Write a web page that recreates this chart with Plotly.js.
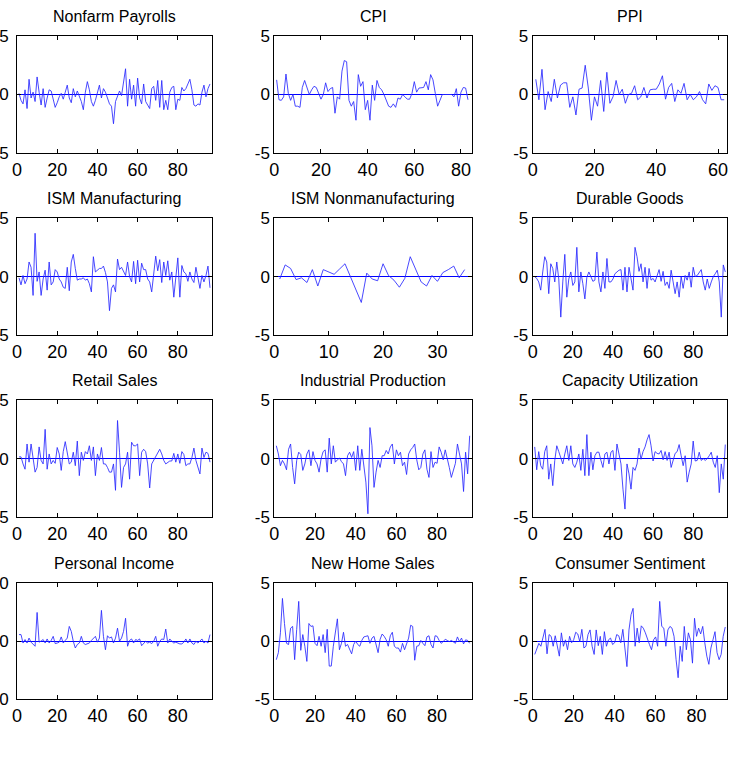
<!DOCTYPE html>
<html>
<head>
<meta charset="utf-8">
<script src="https://cdn.plot.ly/plotly-3.0.1.min.js"></script>
<style>
  html, body { margin: 0; padding: 0; background: #ffffff; }
  #chart { width: 737px; height: 762px; }
</style>
</head>
<body>
<div id="chart"></div>
<script>
// Standardised surprise series, one value per release
const nonfarmPayrolls = [
  0.1, -0.5, -0.8, 0.4, -1.2, 1.3, -0.3, 0.2, -0.6, 1.5,
  0.2, -0.9, 0.5, -1.1, -0.3, 0.4, 0.3, -0.5, -1.1, -0.7,
  -0.2, 0.1, -0.4, 0.2, 0.8, -0.3, -0.7, 0.5, -0.2, 0.3,
  -0.1, -0.6, -1.3, 0.2, 1.1, 0.4, -0.6, -1.0, -0.5, 0.2,
  0.8, -0.3, 0.5, 0.2, -0.4, -0.8, -1.0, -2.5, -0.6, -0.2,
  0.3, -0.1, 1.2, 2.2, -1.0, 1.3, -0.4, 0.8, -1.0, 1.4,
  -0.3, -0.8, 0.9, -0.6, -0.9, -1.2, 0.5, 0.7, -0.5, 1.2,
  -1.1, 1.2, -1.3, -0.5, -1.3, 0.2, 0.6, 0.7, -1.3, -0.4,
  -0.5, 0.6, 0.3, 0.5, 0.9, 1.3, 0.4, -0.9, -1.0, -0.8,
  -0.9, 0.2, 0.8, -0.2, 0.5, 0.9
];
const cpi = [
  1.25, -0.45, -0.5, -0.2, 1.75, 0.1, -0.5, 0.0, -1.0, -1.0,
  -1.1, 0.6, 1.2, 0.5, 0.0, 0.4, 0.7, 0.6, 0.0, -0.4,
  0.0, 1.0, 0.25, 0.5, 0.6, -1.6, -0.2, -0.4, 2.0, 2.9,
  2.8, -0.5, -1.0, -0.6, -2.2, 1.7, 0.7, 1.1, -1.3, -0.5,
  -2.2, 0.8, -0.5, 1.2, 0.6, 0.4, 0.0, -0.6, -1.0, -1.1,
  -0.8, -1.1, -0.3, -0.4, 0.0, -0.2, -0.4, -0.4, 0.1, 1.1,
  0.2, 0.55, 0.6, 0.6, 1.1, 0.4, 1.7, 1.25, 0.1, -1.0,
  -0.5, 0.0, 0.0, 0.0, 0.0, 0.0, -0.2, 0.5, -1.0, 0.2,
  0.6, 0.55, -0.45
];
const ppi = [
  1.3, -0.45, 2.15, -1.3, 0.25, -0.6, 1.3, -0.3, 0.8, 1.0,
  1.0, -1.1, -0.2, -1.75, 0.45, 0.55, 2.5, 0.55, -2.2, -0.2,
  -1.0, 1.2, -1.45, 1.9, -0.75, -0.2, 1.2, 0.0, 0.45, -0.75,
  0.0, 0.1, 0.75, -0.45, -0.2, 0.6, -0.3, 0.4, 0.45, 0.45,
  0.9, 1.6, -0.4, 0.6, 0.95, -0.6, 0.4, 0.1, 0.95, -0.45,
  0.0, -0.45, -0.2, 0.25, -0.45, -0.8, 0.9, 0.35, 0.75, 0.6,
  -0.45, -0.45
];
const ismManufacturing = [
  -0.1, -0.7, 0.1, -0.6, -0.2, 1.25, 0.8, -1.6, 3.7, -0.4,
  0.4, -1.6, -0.2, 0.55, -1.15, 1.25, -0.7, -0.45, 0.6, 0.4,
  -0.2, -0.45, -0.9, -1.0, 0.8, -1.2, 1.25, 1.9, 0.7, -0.3,
  -0.2, -0.2, -0.1, -0.3, -0.2, -0.6, -1.3, 1.7, 0.4, 0.55,
  0.7, 0.7, 0.9, 0.35, -0.45, -2.9, -1.0, -0.7, -1.3, 1.5,
  0.6, 0.8, 0.4, 0.1, 1.25, 0.0, -0.45, 1.3, -0.6, 1.4,
  -0.45, 1.15, 0.6, 0.6, -0.2, -0.45, -1.3, 0.25, 1.75, 0.5,
  1.45, -0.5, 1.25, 0.1, 1.35, -0.3, 0.4, -1.75, -0.2, 1.6,
  -1.75, 0.95, 0.4, 0.25, -0.4, 0.4, -0.2, -0.5, 0.8, -0.2,
  -1.0, 0.1, -0.45, 0.1, 0.9, -0.95
];
const ismNonmanufacturing = [
  -0.2, 1.0, 0.7, -0.25, -0.1, -0.5, 0.6, -0.8, 0.6, 0.4,
  0.2, 0.65, 1.1, 0.0, -1.05, -2.2, 0.3, -0.2, -0.35, 1.1,
  0.1, -0.3, -0.9, -0.15, 1.7, 0.55, -0.45, -0.8, 0.1, -0.4,
  0.35, 0.6, 0.9, -0.1, 0.6
];
const durableGoods = [
  0.0, -0.15, -0.45, -1.15, 0.4, 1.7, 1.25, -1.45, 1.1, 0.7,
  -0.45, 1.25, -0.2, -3.45, -0.45, 1.9, -1.75, -0.2, 0.4, -0.75,
  -0.45, 2.5, -1.3, 0.4, -0.6, -1.9, -0.05, 0.4, 0.0, -0.4,
  -0.3, 2.1, -0.45, -1.3, 0.4, -1.0, 1.55, -0.45, -0.45, -0.2,
  0.25, 0.4, 0.55, 0.6, -1.15, 0.8, -1.3, 0.8, -0.2, -1.15,
  2.5, 1.7, 0.45, 1.1, -0.45, 0.8, -1.0, 0.7, -0.3, -0.15,
  -0.45, 0.0, 0.6, -0.4, 0.45, -0.75, -0.45, -1.0, 0.55, -0.45,
  -1.45, -0.45, -1.75, 0.0, -1.0, 0.1, -0.3, 0.4, -0.9, 0.8,
  0.0, 0.1, 0.4, 0.6, -0.45, -1.15, -0.2, -1.0, -0.45, 0.0,
  0.25, 0.55, -0.45, -3.45, 1.0, 0.4
];
const retailSales = [
  0.15, 0.15, -0.45, -0.9, 1.25, -0.3, 1.25, -0.15, -1.15, -0.75,
  1.0, -0.15, -0.45, 2.5, -0.9, 0.4, -0.45, -0.15, -0.4, 0.95,
  0.4, -1.0, 0.6, 1.45, 0.4, -0.45, -0.3, 0.55, -0.6, 1.5,
  -1.45, 0.55, -0.15, 0.6, 0.4, 1.1, -0.15, 1.0, -1.45, 0.4,
  -0.15, 0.95, -0.45, -0.45, -0.75, -1.15, -1.15, -0.45, -2.7, 3.25,
  0.55, -2.45, -0.75, -0.45, 0.55, -1.75, 1.4, 1.1, 1.1, 1.25,
  -1.45, 0.55, 0.8, 0.6, -0.45, -2.5, -0.45, -0.15, 0.1, 0.45,
  0.8, 0.4, -0.15, -0.45, -0.3, -0.2, -0.2, 0.45, -0.3, 0.4,
  -0.4, 0.6, 0.35, -0.6, -0.45, -0.45, 0.1, 0.9, -0.15, -0.75,
  -1.3, 0.9, 0.1, 0.55, 0.45, -0.3
];
const industrialProduction = [
  1.1, 0.4, -0.6, -0.15, -0.45, -0.95, 0.8, 1.25, -0.75, -2.15,
  -0.15, 0.55, 0.35, -1.0, -0.45, 0.4, 0.75, -0.6, 0.6, -0.15,
  -0.45, -1.15, 0.0, 0.6, 0.75, -1.15, 1.75, -0.45, 1.1, -0.3,
  -0.1, 0.05, -0.25, -0.45, -1.45, 0.25, 0.55, 0.1, 0.6, -1.0,
  1.1, -1.0, 0.8, -0.45, -2.0, -4.7, 2.65, 1.1, -2.45, -1.15,
  -0.15, -0.75, 0.25, 0.25, 0.7, 0.4, 1.0, 1.25, -0.45, 0.75,
  0.25, 0.55, -0.6, -0.3, -1.35, 0.4, 0.75, 0.95, 1.25, -0.1,
  -0.95, -0.75, 0.4, 0.75, -0.9, -1.6, 0.6, -0.75, -0.3, -0.4,
  1.0, 0.55, -0.1, 0.75, -0.15, -0.75, -1.6, -0.95, -0.4, 1.25,
  0.25, -0.45, -2.8, 0.55, -1.3, 1.95
];
const capacityUtilization = [
  1.0, -0.95, 0.6, -0.6, -0.9, 0.6, 1.1, -1.75, -0.45, -2.3,
  -0.15, 1.1, 0.6, 0.1, -0.45, 0.4, 1.1, -0.15, 1.1, -0.45,
  -0.75, -0.3, 0.4, -1.0, 0.8, -1.45, 2.05, -1.45, 0.55, -0.95,
  0.25, 0.55, 0.55, -0.15, -0.75, 0.4, 0.55, -0.45, 0.55, 0.7,
  -1.0, 1.25, 0.4, -0.45, -2.6, -4.3, -0.45, -1.3, -2.6, -0.75,
  -1.0, -0.45, 0.9, -0.05, 0.6, 1.0, 1.6, 2.05, 1.1, -0.2,
  0.6, 0.45, 0.4, 0.7, -0.1, 0.6, -0.15, 0.55, -0.75, -0.15,
  0.45, 0.6, 1.2, 0.25, -0.6, 0.25, -2.0, -1.15, -0.45, 1.5,
  -0.2, -0.15, 0.55, -0.15, 0.0, -0.15, 0.0, 0.25, 0.55, -0.3,
  -0.75, 0.25, -2.9, -0.45, -1.75, 1.2
];
const personalIncome = [
  1.1, 1.1, -0.35, 0.25, -0.35, 0.5, -0.2, -0.5, -0.9, 4.9,
  -0.2, 0.0, 0.25, -0.35, 0.35, -0.35, 0.1, 0.8, -0.45, -0.35,
  -0.2, 0.7, -0.35, 0.1, 0.5, 2.5, 1.65, -0.05, -1.2, -0.6,
  -0.35, 0.8, -0.35, -0.6, -0.45, -0.35, 0.1, 0.5, 0.8, -0.2,
  0.5, 5.25, 0.8, -1.5, 0.9, 0.5, 0.7, -0.35, 0.5, 2.2,
  -0.05, 0.5, 1.65, 3.9, -0.9, 0.1, 0.35, -0.35, 0.25, 0.1,
  0.35, -0.8, -0.45, -0.05, -0.35, -0.2, -0.45, -0.05, 0.8, -0.9,
  -0.05, 0.35, 0.25, 2.05, -0.35, 0.35, -0.05, -0.35, -0.2, -0.35,
  -0.5, -0.5, -0.2, 0.35, -0.35, 0.35, -0.35, -0.6, -0.05, -0.35,
  0.1, 0.35, -0.35, -0.05, -0.35, 1.1
];
const newHomeSales = [
  -1.6, -1.0, 0.7, 3.65, 1.5, -0.2, -0.3, 1.1, 1.25, -1.6,
  1.0, 3.4, -0.8, 0.55, -0.45, -1.75, 1.5, 1.25, 1.3, -0.2,
  -0.4, 0.4, -0.45, 0.55, -1.0, 1.0, -2.15, -2.15, -0.45, 0.55,
  1.9, -0.75, -0.2, 0.75, -0.45, -0.3, -0.75, -1.1, -0.3, 0.0,
  -0.3, -0.45, 0.05, 0.35, 0.4, 0.45, -0.2, 0.25, 0.4, -0.45,
  -1.0, 0.15, 0.6, 0.4, 0.1, -0.45, 0.45, 0.75, -0.45, -0.6,
  -0.6, -0.95, -0.2, -0.75, -0.2, 0.25, 1.35, 1.25, -1.65, -0.45,
  -0.4, 0.05, -0.2, -0.4, 0.35, 0.45, -0.3, -0.6, 0.45, 0.4,
  0.05, -0.2, -0.05, 0.15, 0.05, -0.05, 0.05, -0.1, -0.2, 0.35,
  -0.05, 0.25, -0.25, 0.1, 0.05, -0.2
];
const consumerSentiment = [
  -1.15, -0.6, -0.2, -0.45, 0.4, 1.0, -1.1, 0.55, 0.4, -0.45,
  0.45, -0.6, -1.3, 0.7, -0.45, 0.1, -0.75, 0.4, -0.15, 0.1,
  0.75, 0.6, -0.05, 1.0, -0.6, -0.45, 0.55, 0.95, -0.45, -1.15,
  0.95, -0.4, 0.4, -1.15, 0.8, -0.45, 0.1, 0.25, -0.3, -0.15,
  0.55, 0.45, -0.15, 1.0, -0.45, -2.2, 0.95, 2.25, 2.8, -0.45,
  1.1, -0.15, 1.3, 1.1, 0.7, 0.1, -0.3, -0.75, 0.1, 0.35,
  -0.45, 3.4, 1.25, 1.1, -0.45, 0.95, 1.25, 1.1, 0.4, -1.6,
  -3.15, -0.45, -1.75, 1.25, -0.75, 0.7, 0.1, -1.9, 1.95, 0.4,
  1.1, 0.6, 1.25, -0.15, -1.3, -2.0, -0.6, 0.1, 0.8, -1.0,
  -1.6, -1.15, 0.4, 1.2
];

const panelTitles = [
  'Nonfarm Payrolls', 'CPI', 'PPI',
  'ISM Manufacturing', 'ISM Nonmanufacturing', 'Durable Goods',
  'Retail Sales', 'Industrial Production', 'Capacity Utilization',
  'Personal Income', 'New Home Sales', 'Consumer Sentiment'
];
const panelSeries = [
  nonfarmPayrolls, cpi, ppi,
  ismManufacturing, ismNonmanufacturing, durableGoods,
  retailSales, industrialProduction, capacityUtilization,
  personalIncome, newHomeSales, consumerSentiment
];
const xLimits = [97, 84.6, 63, 97, 36.3, 97, 97, 97, 97, 97, 97, 95];
const xTickStep = [20, 20, 20, 20, 10, 20, 20, 20, 20, 20, 20, 20];
const yLimits = [5, 5, 5, 5, 5, 5, 5, 5, 5, 10, 5, 5];

// subplot grid in pixels (4 rows x 3 columns)
const W = 737, H = 762;
const colLeft = [17, 274.3, 532.7], colRight = [212, 471.7, 727.3];
const rowTop = [36, 218, 400, 582.7], rowBottom = [153, 335.3, 517.3, 699.3];
// the first column's y labels sit a little further from the frame
const yLabelStandoff = [4, 0, 0];

const FONT = '"Liberation Sans", Arial, Helvetica, sans-serif';
const traces = [];
const layout = {
  width: W, height: H,
  margin: { l: 0, r: 0, t: 0, b: 0, pad: 0 },
  paper_bgcolor: '#ffffff', plot_bgcolor: '#ffffff',
  showlegend: false,
  annotations: []
};

panelSeries.forEach((vals, k) => {
  const r = Math.floor(k / 3), c = k % 3;
  const n = k + 1;
  const xs = vals.map((_, i) => i + 1);
  traces.push({
    x: xs, y: vals,
    xaxis: 'x' + n, yaxis: 'y' + n,
    type: 'scatter', mode: 'lines',
    line: { color: 'rgb(40,40,255)', width: 0.85 },
    hoverinfo: 'skip'
  });

  const xt = [];
  for (let v = 0; v <= xLimits[k]; v += xTickStep[k]) xt.push(v);
  const lim = yLimits[k];

  const common = {
    showline: true, linecolor: '#000000', linewidth: 1, mirror: 'ticks',
    ticks: 'inside', ticklen: 4, tickwidth: 1, tickcolor: '#000000',
    showgrid: false, fixedrange: true, tickmode: 'array'
  };
  layout['xaxis' + n] = Object.assign({}, common, {
    domain: [colLeft[c] / W, colRight[c] / W],
    anchor: 'y' + n,
    range: [0, xLimits[k]],
    tickvals: xt, ticktext: xt.map(String),
    zeroline: false,
    tickfont: { family: FONT, size: 18, color: '#000000' }
  });
  layout['yaxis' + n] = Object.assign({}, common, {
    domain: [1 - rowBottom[r] / H, 1 - rowTop[r] / H],
    anchor: 'x' + n,
    range: [-lim, lim],
    tickvals: [-lim, 0, lim], ticktext: [String(-lim), '0', String(lim)],
    ticklabelstandoff: yLabelStandoff[c],
    zeroline: true, zerolinecolor: '#0000ff', zerolinewidth: 1,
    tickfont: { family: FONT, size: 17, color: '#000000' }
  });
  layout.annotations.push({
    text: panelTitles[k],
    xref: 'paper', yref: 'paper',
    x: (colLeft[c] + colRight[c]) / 2 / W,
    y: 1 - rowTop[r] / H,
    xanchor: 'center', yanchor: 'bottom', yshift: 9,
    showarrow: false,
    font: { family: FONT, size: 16, color: '#000000' }
  });
});

Plotly.newPlot('chart', traces, layout, { staticPlot: true, displayModeBar: false });
</script>
</body>
</html>
